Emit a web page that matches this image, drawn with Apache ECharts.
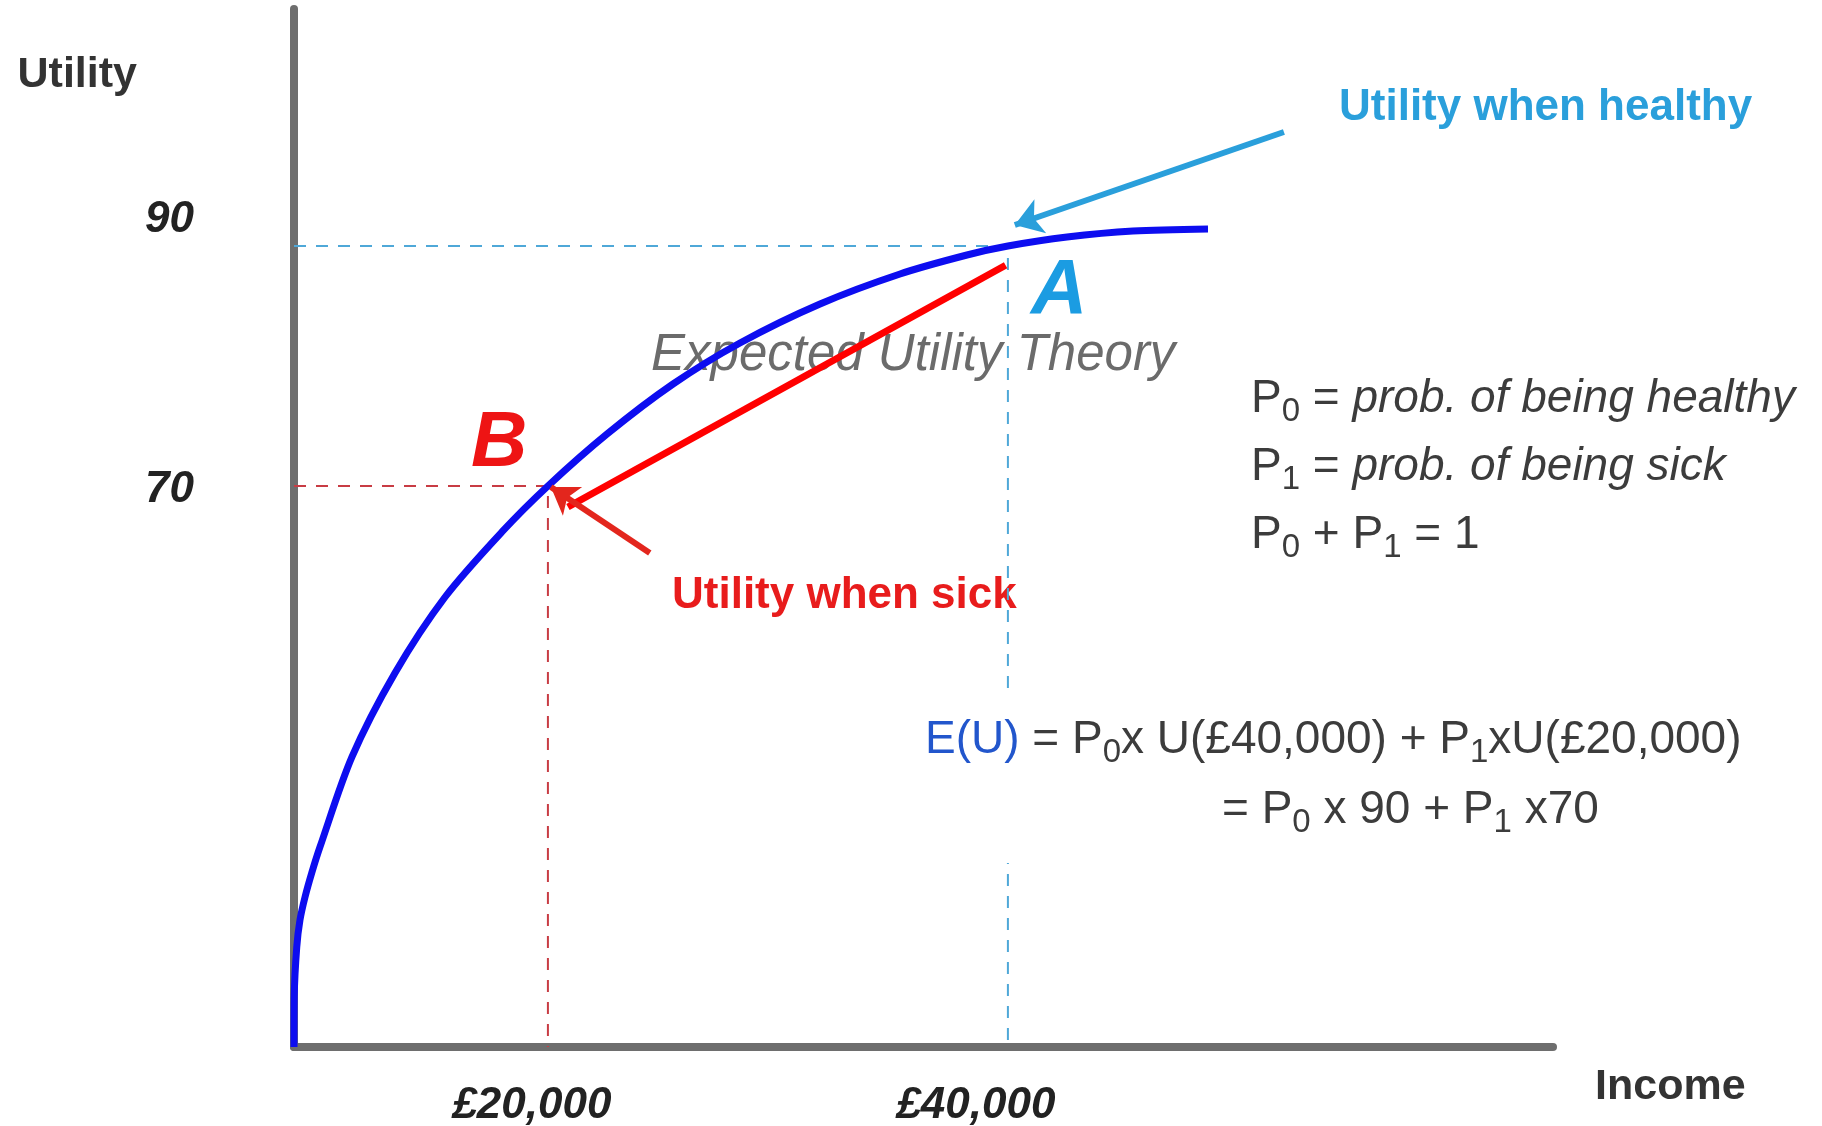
<!DOCTYPE html>
<html lang="en">
<head>
<meta charset="utf-8" />
<title>Expected Utility Theory</title>
<style>
  html, body { margin: 0; padding: 0; background: #fff; }
  #main { width: 1822px; height: 1126px; }
</style>
</head>
<body>
<div id="main"></div>
<script src="https://cdn.jsdelivr.net/npm/echarts@6/dist/echarts.min.js"></script>
<script>
// utility curve: income in £ thousands, utility in utils
var incomeK = [8.96, 8.97, 9.08, 9.22, 9.44, 9.73, 10.09, 11.48, 13.35, 15.53, 18.0, 20.0, 22.57, 25.44, 28.35, 31.83, 35.31, 38.22, 40.0, 42.57, 45.44, 48.7];
var utility = [23.25, 27.42, 31.58, 33.83, 35.75, 37.75, 39.92, 47.42, 54.42, 60.75, 66.17, 70.0, 74.33, 78.5, 81.92, 85.17, 87.67, 89.25, 90.0, 90.75, 91.25, 91.42];

// points A (healthy) and B (sick)
var pointA = [40, 90];
var pointB = [20, 70];

// axis ranges
var xMin = 8.96, xMax = 63.7;
var yMin = 23.25, yMax = 109.75;

// tick labels
var xTickValues = [20, 40];
var xTickLabels = ['£20,000', '£40,000'];
var yTickValues = [70, 90];
var yTickLabels = ['70', '90'];

// arrows and chord
var healthyArrow = [[52.0, 99.5], [40.3, 91.75]];
var sickArrow = [[24.43, 64.42], [20.13, 69.92]];
var chord = [[39.9, 88.4], [20.87, 68.25]];

var font = "'Liberation Sans', Arial, sans-serif";
var grey = '#3c3c3c';

var curve = incomeK.map(function (x, i) { return [x, utility[i]]; });

var myChart = echarts.init(document.getElementById('main'));

// rich styles for the formula lines (zrender style names)
var rich = {
  n: { fontFamily: font, fontSize: 46, lineHeight: 58, fill: grey },
  i: { fontFamily: font, fontSize: 46, lineHeight: 58, fill: grey, fontStyle: 'italic' },
  s: { fontFamily: font, fontSize: 33, lineHeight: 20, fill: grey, verticalAlign: 'bottom' },
  b: { fontFamily: font, fontSize: 46, lineHeight: 58, fill: '#2256cc' }
};

function txt(x, y, text, style, z) {
  var st = Object.assign({ text: text, fontFamily: font, align: 'left', verticalAlign: 'middle' }, style);
  return { type: 'text', x: x, y: y, z: z || 1, silent: true, style: st };
}

var option = {
  animation: false,
  backgroundColor: '#fff',
  grid: { left: 294, right: 269, top: 9, bottom: 79, containLabel: false, outerBoundsMode: 'none' },
  xAxis: {
    type: 'value',
    min: xMin,
    max: xMax,
    axisLine: { lineStyle: { color: '#6e6e6e', width: 8 } },
    axisTick: { show: false },
    splitLine: { show: false },
    axisLabel: {
      customValues: xTickValues,
      margin: 37,
      formatter: function (v) {
        var i = xTickValues.indexOf(v);
        return '{x' + i + '|' + xTickLabels[i] + '}';
      },
      rich: {
        x0: { fontFamily: font, fontSize: 44, fontWeight: 'bold', fontStyle: 'italic', color: '#222', padding: [0, 32, 0, 0] },
        x1: { fontFamily: font, fontSize: 44, fontWeight: 'bold', fontStyle: 'italic', color: '#222', padding: [0, 64, 0, 0] }
      }
    }
  },
  yAxis: {
    type: 'value',
    min: yMin,
    max: yMax,
    name: 'Utility',
    nameLocation: 'end',
    nameGap: -66,
    nameTextStyle: { fontFamily: font, fontSize: 43, fontWeight: 'bold', color: '#333', align: 'right', verticalAlign: 'middle', padding: [0, 157, 0, 0] },
    axisLine: { lineStyle: { color: '#6e6e6e', width: 8 } },
    axisTick: { show: false },
    splitLine: { show: false },
    axisLabel: {
      customValues: yTickValues,
      margin: 100,
      formatter: function (v) {
        var i = yTickValues.indexOf(v);
        return '{y' + i + '|' + yTickLabels[i] + '}';
      },
      rich: {
        y0: { fontFamily: font, fontSize: 44, fontWeight: 'bold', fontStyle: 'italic', color: '#222', padding: [8, 0, 0, 0] },
        y1: { fontFamily: font, fontSize: 44, fontWeight: 'bold', fontStyle: 'italic', color: '#222', padding: [0, 0, 52, 0] }
      }
    }
  },
  graphic: [
    txt(1595, 1087, 'Income', { fontSize: 43, fontWeight: 'bold', fill: '#333' }),
    txt(1339, 108, 'Utility when healthy', { fontSize: 44, fontWeight: 'bold', fill: '#2a9fdb' }),
    txt(1031, 292, 'A', { fontSize: 78, fontWeight: 'bold', fontStyle: 'italic', fill: '#1b9ce2' }),
    txt(471, 444, 'B', { fontSize: 78, fontWeight: 'bold', fontStyle: 'italic', fill: '#ee1414' }),
    txt(651, 356, 'Expected Utility Theory', { fontSize: 51, fontStyle: 'italic', fill: '#6b6b6b' }),
    txt(672, 596, 'Utility when sick', { fontSize: 44, fontWeight: 'bold', fill: '#e81c1c' }),
    txt(1251, 399, '{n|P}{s|0}{n| = }{i|prob. of being healthy}', { rich: rich }),
    txt(1251, 467, '{n|P}{s|1}{n| = }{i|prob. of being sick}', { rich: rich }),
    txt(1251, 535, '{n|P}{s|0}{n| + P}{s|1}{n| = 1}', { rich: rich }),
    { type: 'rect', z: 10, silent: true, shape: { x: 915, y: 688, width: 845, height: 175 }, style: { fill: '#fff' } },
    txt(925, 740, '{b|E(U)}{n| = P}{s|0}{n|x U(£40,000) + P}{s|1}{n|xU(£20,000)}', { rich: rich }, 11),
    txt(1222, 810, '{n|= P}{s|0}{n| x 90 + P}{s|1}{n| x70}', { rich: rich }, 11)
  ],
  series: [
    {
      type: 'line',
      data: [[xMin, pointA[1]], pointA, [pointA[0], yMin]],
      symbol: 'none',
      clip: false,
      lineStyle: { color: '#4fa8d8', width: 2, type: [12, 10] },
      z: 3
    },
    {
      type: 'line',
      data: [[xMin, pointB[1]], pointB, [pointB[0], yMin]],
      symbol: 'none',
      clip: false,
      lineStyle: { color: '#c83c44', width: 2, type: [12, 10] },
      z: 3
    },
    {
      type: 'line',
      data: curve,
      smooth: 0.3,
      symbol: 'none',
      clip: false,
      lineStyle: { color: '#0d0df0', width: 7 },
      z: 5
    },
    {
      type: 'line',
      data: chord,
      symbol: 'none',
      clip: false,
      lineStyle: { color: '#ff0000', width: 7 },
      z: 6
    },
    {
      type: 'lines',
      coordinateSystem: 'cartesian2d',
      symbol: ['none', 'arrow'],
      symbolSize: [24, 27],
      silent: true,
      lineStyle: { color: '#2a9fdb', width: 6, opacity: 1 },
      data: [{ coords: healthyArrow }],
      z: 7
    },
    {
      type: 'lines',
      coordinateSystem: 'cartesian2d',
      symbol: ['none', 'arrow'],
      symbolSize: [24, 26],
      silent: true,
      lineStyle: { color: '#e3261d', width: 6, opacity: 1 },
      data: [{ coords: sickArrow }],
      z: 7
    }
  ]
};

myChart.setOption(option);
window.onresize = myChart.resize;
</script>
</body>
</html>
